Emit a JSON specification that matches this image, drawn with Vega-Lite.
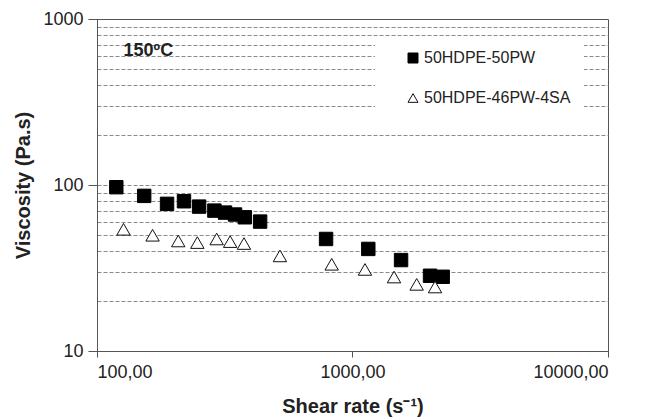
{
  "$schema": "https://vega.github.io/schema/vega-lite/v6.json",
  "width": 511,
  "height": 332,
  "autosize": {"type": "none"},
  "padding": {"left": 97, "top": 19, "right": 38, "bottom": 67},
  "background": "white",
  "config": {
    "font": "Liberation Sans",
    "view": {"stroke": "#555555", "strokeWidth": 1},
    "legend": {
      "orient": "none",
      "legendX": 278,
      "legendY": 18,
      "fillColor": "white",
      "padding": 13,
      "symbolOffset": 17,
      "symbolSize": 100,
      "symbolStrokeColor": "black",
      "symbolStrokeWidth": 1,
      "labelFontSize": 16,
      "labelColor": "#222222",
      "labelOffset": 3,
      "rowPadding": 24,
      "labelLimit": 300
    }
  },
  "layer": [
    {
      "data": {
        "values": [
          {"series": "50HDPE-50PW", "rate": 119, "visc": 97.0},
          {"series": "50HDPE-50PW", "rate": 153, "visc": 86.0},
          {"series": "50HDPE-50PW", "rate": 188, "visc": 77.0},
          {"series": "50HDPE-50PW", "rate": 219, "visc": 79.8},
          {"series": "50HDPE-50PW", "rate": 251, "visc": 74.1},
          {"series": "50HDPE-50PW", "rate": 288, "visc": 70.1},
          {"series": "50HDPE-50PW", "rate": 317, "visc": 68.2},
          {"series": "50HDPE-50PW", "rate": 347, "visc": 66.4},
          {"series": "50HDPE-50PW", "rate": 379, "visc": 63.9},
          {"series": "50HDPE-50PW", "rate": 435, "visc": 60.2},
          {"series": "50HDPE-50PW", "rate": 788, "visc": 47.3},
          {"series": "50HDPE-50PW", "rate": 1153, "visc": 41.2},
          {"series": "50HDPE-50PW", "rate": 1549, "visc": 35.3},
          {"series": "50HDPE-50PW", "rate": 2011, "visc": 28.4},
          {"series": "50HDPE-50PW", "rate": 2255, "visc": 28.0},
          {"series": "50HDPE-46PW-4SA", "rate": 127, "visc": 54.1},
          {"series": "50HDPE-46PW-4SA", "rate": 165, "visc": 49.8},
          {"series": "50HDPE-46PW-4SA", "rate": 208, "visc": 46.0},
          {"series": "50HDPE-46PW-4SA", "rate": 247, "visc": 45.0},
          {"series": "50HDPE-46PW-4SA", "rate": 294, "visc": 47.3},
          {"series": "50HDPE-46PW-4SA", "rate": 332, "visc": 45.6},
          {"series": "50HDPE-46PW-4SA", "rate": 376, "visc": 44.4},
          {"series": "50HDPE-46PW-4SA", "rate": 520, "visc": 37.4},
          {"series": "50HDPE-46PW-4SA", "rate": 829, "visc": 33.3},
          {"series": "50HDPE-46PW-4SA", "rate": 1119, "visc": 31.0},
          {"series": "50HDPE-46PW-4SA", "rate": 1454, "visc": 27.9},
          {"series": "50HDPE-46PW-4SA", "rate": 1783, "visc": 25.2},
          {"series": "50HDPE-46PW-4SA", "rate": 2104, "visc": 24.3}
        ]
      },
      "mark": {"type": "point", "filled": false, "strokeWidth": 1, "opacity": 1, "size": 180},
      "encoding": {
        "x": {
          "field": "rate", "type": "quantitative",
          "scale": {"type": "log", "domain": [100, 10000], "nice": false},
          "axis": {
            "title": "Shear rate (s⁻¹)",
            "values": [100, 1000, 10000],
            "labelExpr": "datum.value + ',00'",
            "labelOverlap": false,
            "grid": false,
            "tickSize": 6,
            "tickColor": "#555555",
            "domainColor": "#555555",
            "labelFontSize": 18,
            "labelColor": "#222222",
            "labelPadding": 6,
            "titleFontSize": 20,
            "titleFontWeight": "bold",
            "titleColor": "#222222",
            "titlePadding": 15
          }
        },
        "y": {
          "field": "visc", "type": "quantitative",
          "scale": {"type": "log", "domain": [10, 1000], "nice": false},
          "axis": {
            "title": "Viscosity (Pa.s)",
            "values": [10, 20, 30, 40, 50, 60, 70, 80, 90, 100, 200, 300, 400, 500, 600, 700, 800, 900, 1000],
            "format": "d",
            "labelExpr": "(datum.value == 10 || datum.value == 100 || datum.value == 1000) ? datum.label : ''",
            "labelOverlap": false,
            "grid": true,
            "gridColor": "#8a8a8a",
            "gridDash": [4, 2],
            "gridWidth": 1,
            "gridOpacity": {"condition": {"test": "datum.value == 10 || datum.value == 1000", "value": 0}, "value": 1},
            "tickOpacity": {"condition": {"test": "datum.value == 10 || datum.value == 100 || datum.value == 1000", "value": 1}, "value": 0},
            "tickSize": 9,
            "tickColor": "#555555",
            "domainColor": "#555555",
            "labelFontSize": 18,
            "labelColor": "#222222",
            "labelPadding": 5,
            "titleFontSize": 20,
            "titleFontWeight": "bold",
            "titleColor": "#222222",
            "titlePadding": 9
          }
        },
        "shape": {
          "field": "series", "type": "nominal",
          "scale": {"domain": ["50HDPE-50PW", "50HDPE-46PW-4SA"], "range": ["square", "triangle-up"]},
          "legend": {"title": null}
        },
        "fill": {
          "field": "series", "type": "nominal",
          "scale": {"domain": ["50HDPE-50PW", "50HDPE-46PW-4SA"], "range": ["black", "white"]},
          "legend": {"title": null}
        },
        "stroke": {
          "field": "series", "type": "nominal",
          "scale": {"domain": ["50HDPE-50PW", "50HDPE-46PW-4SA"], "range": ["black", "#111111"]},
          "legend": {"title": null}
        }
      }
    },
    {
      "data": {"values": [{"label": "150ºC", "rate": 127, "visc": 640}]},
      "mark": {"type": "text", "align": "left", "baseline": "middle", "fontSize": 18, "fontWeight": "bold", "color": "#222222"},
      "encoding": {
        "x": {"field": "rate", "type": "quantitative", "scale": {"type": "log", "domain": [100, 10000], "nice": false}},
        "y": {"field": "visc", "type": "quantitative", "scale": {"type": "log", "domain": [10, 1000], "nice": false}},
        "text": {"field": "label"}
      }
    }
  ]
}
